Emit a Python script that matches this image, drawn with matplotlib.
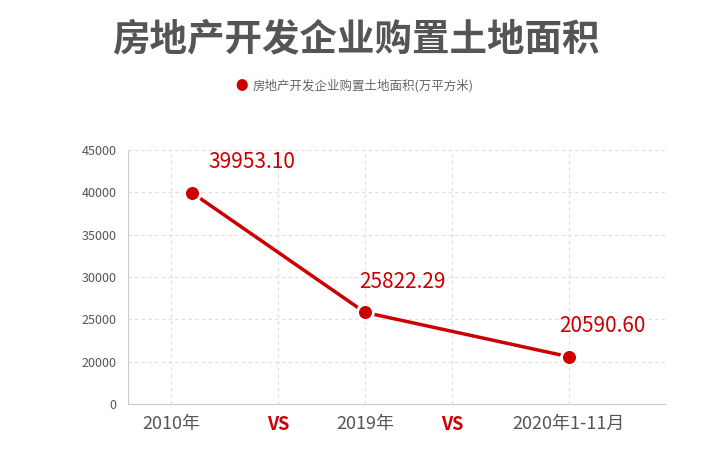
#!/usr/bin/env python3
# -*- coding: utf-8 -*-
"""房地产开发企业购置土地面积 折线图"""

import matplotlib
matplotlib.use('Agg')
import matplotlib.pyplot as plt

plt.rcParams['font.family'] = ['Noto Sans CJK SC', 'DejaVu Sans']

# 数据
years = ['2010年', '2019年', '2020年1-11月']
areas = [39953.10, 25822.29, 20590.60]
tick_labels = ['2010年', 'VS', '2019年', 'VS', '2020年1-11月']
y_ticks = [15000, 20000, 25000, 30000, 35000, 40000, 45000]
y_tick_labels = ['0', '20000', '25000', '30000', '35000', '40000', '45000']

# 横向位置（与参考图对齐）
point_x = [192, 365, 569]
tick_x = [171, 278, 365, 452, 569]
label_dx = [12, -4, -7]

RED = '#cc0000'

fig = plt.figure(figsize=(7.11, 4.53), dpi=100)
ax = fig.add_axes([0.18, 0.108, 0.755, 0.561])

ax.plot(point_x, areas, '-', color=RED, linewidth=2.5, zorder=3)
ax.scatter(point_x, areas, s=130, color=RED, edgecolor='white', linewidth=2, zorder=4)

for x, v, dx in zip(point_x, areas, label_dx):
    ax.annotate(f'{v:.2f}', (x, v), xytext=(dx, 14), textcoords='offset points',
                color=RED, fontsize=15, ha='left', va='bottom')

ax.set_xlim(128, 665)
ax.set_ylim(15000, 45000)
ax.set_yticks(y_ticks)
ax.set_yticklabels(y_tick_labels, fontsize=9, color='#555555')
ax.set_xticks(tick_x)
ax.set_xticklabels(tick_labels, fontsize=13)
for lab in ax.get_xticklabels():
    if lab.get_text() == 'VS':
        lab.set_color(RED)
        lab.set_fontweight('bold')
    else:
        lab.set_color('#555555')

ax.tick_params(length=0, pad=8)
ax.grid(True, color='#dddddd', linestyle=(0, (3, 3)), linewidth=0.8)
for s in ['top', 'right']:
    ax.spines[s].set_visible(False)
ax.spines['left'].set_color('#cccccc')
ax.spines['bottom'].set_color('#cccccc')

fig.text(0.5, 0.915, '房地产开发企业购置土地面积', ha='center', va='center',
         fontsize=27, fontweight='bold', color='#555555')
fig.text(0.34, 0.81, '●', ha='center', va='center', color=RED, fontsize=9)
fig.text(0.355, 0.81, '房地产开发企业购置土地面积(万平方米)', ha='left', va='center',
         fontsize=9, color='#666666')

plt.savefig('out.png', dpi=100)
plt.close()
